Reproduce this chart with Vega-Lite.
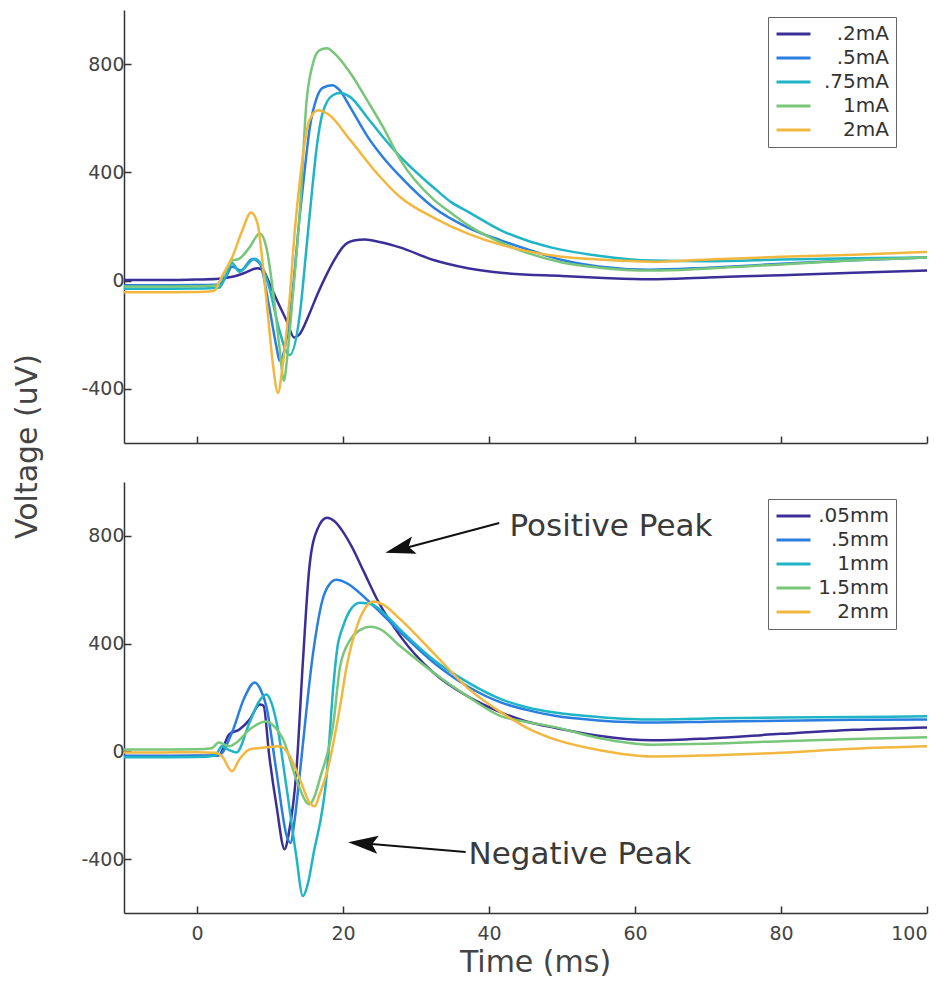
{
"$schema": "https://vega.github.io/schema/vega-lite/v6.json",
"padding": {"left": 12, "top": 10, "right": 10, "bottom": 2},
"background": "white",
"bounds": "flush",
"config": {
  "font": "DejaVu Sans",
  "view": {"stroke": null},
  "axis": {"grid": false, "domainColor": "#333", "domainWidth": 1.5, "tickColor": "#333", "tickWidth": 1.5, "tickSize": -7, "labelColor": "#444", "labelFont": "DejaVu Sans", "labelFontSize": 19, "labelPadding": 7, "titleColor": "#444", "titleFont": "DejaVu Sans", "titleFontWeight": "normal"},
  "legend": {"orient": "none", "title": null, "strokeColor": "#666", "fillColor": "white", "padding": 7, "symbolType": "M-1,0L3,0", "symbolSize": 289, "symbolStrokeWidth": 3, "labelFontSize": 20, "labelColor": "#333", "labelFont": "DejaVu Sans", "labelAlign": "right", "labelOffset": 94, "rowPadding": 4}
},
"datasets": {
"top": [
{"s":".2mA","t":-10,"v":2},{"s":".2mA","t":-5,"v":2},{"s":".2mA","t":0,"v":4},{"s":".2mA","t":3,"v":7},{"s":".2mA","t":5,"v":15},{"s":".2mA","t":6.5,"v":28},{"s":".2mA","t":8.3,"v":46},{"s":".2mA","t":9.2,"v":32},{"s":".2mA","t":10,"v":-15},{"s":".2mA","t":10.9,"v":-70},{"s":".2mA","t":12.3,"v":-150},{"s":".2mA","t":13.3,"v":-210},{"s":".2mA","t":14,"v":-200},{"s":".2mA","t":15.4,"v":-122},{"s":".2mA","t":16.5,"v":-50},{"s":".2mA","t":17.8,"v":25},{"s":".2mA","t":19,"v":85},{"s":".2mA","t":20,"v":125},{"s":".2mA","t":21.5,"v":148},{"s":".2mA","t":23,"v":152},{"s":".2mA","t":25,"v":143},{"s":".2mA","t":27.9,"v":122},{"s":".2mA","t":32.4,"v":76},{"s":".2mA","t":37.1,"v":46},{"s":".2mA","t":42,"v":28},{"s":".2mA","t":50,"v":17},{"s":".2mA","t":55,"v":11},{"s":".2mA","t":62,"v":5},{"s":".2mA","t":70,"v":12},{"s":".2mA","t":80,"v":20},{"s":".2mA","t":90,"v":29},{"s":".2mA","t":100,"v":37},
{"s":".5mA","t":-10,"v":-17},{"s":".5mA","t":-5,"v":-17},{"s":".5mA","t":0,"v":-16},{"s":".5mA","t":3,"v":-14},{"s":".5mA","t":4,"v":15},{"s":".5mA","t":4.8,"v":52},{"s":".5mA","t":6,"v":37},{"s":".5mA","t":7.6,"v":80},{"s":".5mA","t":8.6,"v":63},{"s":".5mA","t":9.9,"v":-99},{"s":".5mA","t":10.9,"v":-247},{"s":".5mA","t":11.3,"v":-296},{"s":".5mA","t":12.3,"v":-210},{"s":".5mA","t":13.1,"v":-40},{"s":".5mA","t":14.1,"v":248},{"s":".5mA","t":14.8,"v":420},{"s":".5mA","t":15.4,"v":556},{"s":".5mA","t":16.4,"v":675},{"s":".5mA","t":17.2,"v":712},{"s":".5mA","t":18.5,"v":722},{"s":".5mA","t":19.5,"v":705},{"s":".5mA","t":21,"v":640},{"s":".5mA","t":23.3,"v":535},{"s":".5mA","t":25.5,"v":455},{"s":".5mA","t":27.9,"v":383},{"s":".5mA","t":32.4,"v":270},{"s":".5mA","t":37.1,"v":196},{"s":".5mA","t":41.7,"v":148},{"s":".5mA","t":45,"v":118},{"s":".5mA","t":50,"v":76},{"s":".5mA","t":55,"v":52},{"s":".5mA","t":62,"v":40},{"s":".5mA","t":70,"v":48},{"s":".5mA","t":80,"v":62},{"s":".5mA","t":90,"v":75},{"s":".5mA","t":100,"v":85},
{"s":".75mA","t":-10,"v":-30},{"s":".75mA","t":-5,"v":-30},{"s":".75mA","t":0,"v":-29},{"s":".75mA","t":3,"v":-26},{"s":".75mA","t":4,"v":20},{"s":".75mA","t":4.8,"v":65},{"s":".75mA","t":5.8,"v":33},{"s":".75mA","t":7.9,"v":81},{"s":".75mA","t":9,"v":48},{"s":".75mA","t":9.9,"v":-26},{"s":".75mA","t":11.3,"v":-185},{"s":".75mA","t":12.3,"v":-266},{"s":".75mA","t":12.7,"v":-275},{"s":".75mA","t":14.1,"v":-122},{"s":".75mA","t":15,"v":122},{"s":".75mA","t":15.9,"v":370},{"s":".75mA","t":16.4,"v":493},{"s":".75mA","t":17.2,"v":619},{"s":".75mA","t":18.6,"v":685},{"s":".75mA","t":19.6,"v":693},{"s":".75mA","t":21,"v":678},{"s":".75mA","t":23.3,"v":604},{"s":".75mA","t":25.5,"v":530},{"s":".75mA","t":27.9,"v":456},{"s":".75mA","t":32.4,"v":344},{"s":".75mA","t":34.8,"v":290},{"s":".75mA","t":37.1,"v":255},{"s":".75mA","t":41.7,"v":185},{"s":".75mA","t":45,"v":150},{"s":".75mA","t":48.6,"v":122},{"s":".75mA","t":55,"v":92},{"s":".75mA","t":62.3,"v":74},{"s":".75mA","t":70,"v":72},{"s":".75mA","t":80,"v":78},{"s":".75mA","t":90,"v":83},{"s":".75mA","t":100,"v":85},
{"s":"1mA","t":-10,"v":-22},{"s":"1mA","t":-5,"v":-22},{"s":"1mA","t":0,"v":-21},{"s":"1mA","t":2.6,"v":-18},{"s":"1mA","t":4,"v":40},{"s":"1mA","t":4.8,"v":74},{"s":"1mA","t":5.8,"v":81},{"s":"1mA","t":7.2,"v":123},{"s":"1mA","t":8.6,"v":174},{"s":"1mA","t":9.5,"v":123},{"s":"1mA","t":10.4,"v":-37},{"s":"1mA","t":11.3,"v":-247},{"s":"1mA","t":11.9,"v":-370},{"s":"1mA","t":12.4,"v":-272},{"s":"1mA","t":13.1,"v":-63},{"s":"1mA","t":14.1,"v":260},{"s":"1mA","t":15,"v":660},{"s":"1mA","t":15.9,"v":804},{"s":"1mA","t":16.8,"v":852},{"s":"1mA","t":17.8,"v":859},{"s":"1mA","t":19,"v":835},{"s":"1mA","t":21,"v":767},{"s":"1mA","t":23.3,"v":667},{"s":"1mA","t":25.5,"v":567},{"s":"1mA","t":27.9,"v":444},{"s":"1mA","t":32.4,"v":300},{"s":"1mA","t":34.8,"v":250},{"s":"1mA","t":37.1,"v":205},{"s":"1mA","t":41.7,"v":140},{"s":"1mA","t":45,"v":105},{"s":"1mA","t":50,"v":67},{"s":"1mA","t":55,"v":48},{"s":"1mA","t":62.3,"v":37},{"s":"1mA","t":70,"v":45},{"s":"1mA","t":80,"v":60},{"s":"1mA","t":90,"v":75},{"s":"1mA","t":100,"v":85},
{"s":"2mA","t":-10,"v":-43},{"s":"2mA","t":-5,"v":-43},{"s":"2mA","t":0,"v":-42},{"s":"2mA","t":2.3,"v":-38},{"s":"2mA","t":3.5,"v":20},{"s":"2mA","t":4.8,"v":85},{"s":"2mA","t":6.2,"v":185},{"s":"2mA","t":7.4,"v":252},{"s":"2mA","t":8.3,"v":210},{"s":"2mA","t":9,"v":63},{"s":"2mA","t":9.7,"v":-122},{"s":"2mA","t":10.4,"v":-309},{"s":"2mA","t":11.1,"v":-415},{"s":"2mA","t":11.7,"v":-322},{"s":"2mA","t":12.7,"v":-63},{"s":"2mA","t":13.4,"v":185},{"s":"2mA","t":14.1,"v":370},{"s":"2mA","t":14.7,"v":500},{"s":"2mA","t":15.4,"v":593},{"s":"2mA","t":16.6,"v":630},{"s":"2mA","t":18,"v":615},{"s":"2mA","t":21,"v":519},{"s":"2mA","t":25.1,"v":383},{"s":"2mA","t":27.9,"v":307},{"s":"2mA","t":32.4,"v":233},{"s":"2mA","t":37.1,"v":174},{"s":"2mA","t":41.7,"v":132},{"s":"2mA","t":45,"v":110},{"s":"2mA","t":50,"v":88},{"s":"2mA","t":55,"v":78},{"s":"2mA","t":62.3,"v":70},{"s":"2mA","t":70,"v":78},{"s":"2mA","t":80,"v":88},{"s":"2mA","t":90,"v":96},{"s":"2mA","t":100,"v":106}
],
"bottom": [
{"s":".05mm","t":-10,"v":-17},{"s":".05mm","t":-5,"v":-17},{"s":".05mm","t":0,"v":-16},{"s":".05mm","t":3,"v":-14},{"s":".05mm","t":4.4,"v":63},{"s":".05mm","t":5.8,"v":81},{"s":".05mm","t":7.2,"v":118},{"s":".05mm","t":8.6,"v":174},{"s":".05mm","t":9.1,"v":170},{"s":".05mm","t":9.9,"v":-17},{"s":".05mm","t":10.9,"v":-204},{"s":".05mm","t":12,"v":-363},{"s":".05mm","t":12.6,"v":-300},{"s":".05mm","t":13.6,"v":-78},{"s":".05mm","t":14.5,"v":330},{"s":".05mm","t":15.4,"v":685},{"s":".05mm","t":16.5,"v":825},{"s":".05mm","t":17.8,"v":867},{"s":".05mm","t":18.8,"v":855},{"s":".05mm","t":20,"v":815},{"s":".05mm","t":21.2,"v":760},{"s":".05mm","t":22.8,"v":670},{"s":".05mm","t":24.7,"v":563},{"s":".05mm","t":27.9,"v":426},{"s":".05mm","t":32.4,"v":292},{"s":".05mm","t":37.1,"v":204},{"s":".05mm","t":41.7,"v":144},{"s":".05mm","t":45,"v":112},{"s":".05mm","t":49,"v":88},{"s":".05mm","t":55,"v":58},{"s":".05mm","t":62.3,"v":41},{"s":".05mm","t":70,"v":48},{"s":".05mm","t":80,"v":65},{"s":".05mm","t":90,"v":80},{"s":".05mm","t":100,"v":89},
{"s":".5mm","t":-10,"v":-17},{"s":".5mm","t":-5,"v":-17},{"s":".5mm","t":0,"v":-16},{"s":".5mm","t":3,"v":-14},{"s":".5mm","t":4.8,"v":70},{"s":".5mm","t":6.5,"v":200},{"s":".5mm","t":7.9,"v":256},{"s":".5mm","t":8.7,"v":230},{"s":".5mm","t":9.5,"v":167},{"s":".5mm","t":10.9,"v":-78},{"s":".5mm","t":12.3,"v":-315},{"s":".5mm","t":12.8,"v":-340},{"s":".5mm","t":13.4,"v":-250},{"s":".5mm","t":14.1,"v":-78},{"s":".5mm","t":15.9,"v":365},{"s":".5mm","t":17.2,"v":563},{"s":".5mm","t":18,"v":615},{"s":".5mm","t":19.1,"v":637},{"s":".5mm","t":20.5,"v":625},{"s":".5mm","t":23.3,"v":563},{"s":".5mm","t":27.9,"v":441},{"s":".5mm","t":32.4,"v":330},{"s":".5mm","t":37.1,"v":241},{"s":".5mm","t":41.7,"v":181},{"s":".5mm","t":45,"v":155},{"s":".5mm","t":49,"v":132},{"s":".5mm","t":55,"v":115},{"s":".5mm","t":62.3,"v":107},{"s":".5mm","t":70,"v":110},{"s":".5mm","t":80,"v":114},{"s":".5mm","t":90,"v":117},{"s":".5mm","t":100,"v":118},
{"s":"1mm","t":-10,"v":-22},{"s":"1mm","t":-5,"v":-22},{"s":"1mm","t":0,"v":-21},{"s":"1mm","t":2.5,"v":-15},{"s":"1mm","t":3.4,"v":19},{"s":"1mm","t":4.4,"v":5},{"s":"1mm","t":5.4,"v":-4},{"s":"1mm","t":7.2,"v":107},{"s":"1mm","t":8.5,"v":185},{"s":"1mm","t":9.5,"v":211},{"s":"1mm","t":10.2,"v":180},{"s":"1mm","t":10.9,"v":107},{"s":"1mm","t":12.3,"v":-141},{"s":"1mm","t":13.6,"v":-389},{"s":"1mm","t":14.5,"v":-537},{"s":"1mm","t":15.2,"v":-490},{"s":"1mm","t":15.9,"v":-389},{"s":"1mm","t":17.8,"v":-78},{"s":"1mm","t":18.7,"v":250},{"s":"1mm","t":19.2,"v":380},{"s":"1mm","t":20,"v":463},{"s":"1mm","t":21,"v":525},{"s":"1mm","t":22.3,"v":552},{"s":"1mm","t":24,"v":545},{"s":"1mm","t":25.5,"v":515},{"s":"1mm","t":27.9,"v":450},{"s":"1mm","t":32.4,"v":340},{"s":"1mm","t":37.1,"v":256},{"s":"1mm","t":41.7,"v":193},{"s":"1mm","t":45,"v":165},{"s":"1mm","t":49,"v":144},{"s":"1mm","t":55,"v":128},{"s":"1mm","t":62.3,"v":118},{"s":"1mm","t":70,"v":122},{"s":"1mm","t":80,"v":126},{"s":"1mm","t":90,"v":128},{"s":"1mm","t":100,"v":130},
{"s":"1.5mm","t":-10,"v":7},{"s":"1.5mm","t":-5,"v":7},{"s":"1.5mm","t":0,"v":8},{"s":"1.5mm","t":2,"v":12},{"s":"1.5mm","t":3,"v":33},{"s":"1.5mm","t":4.4,"v":19},{"s":"1.5mm","t":5.5,"v":35},{"s":"1.5mm","t":7.2,"v":81},{"s":"1.5mm","t":9.5,"v":111},{"s":"1.5mm","t":10.5,"v":95},{"s":"1.5mm","t":11.8,"v":44},{"s":"1.5mm","t":13.6,"v":-104},{"s":"1.5mm","t":15,"v":-189},{"s":"1.5mm","t":15.4,"v":-196},{"s":"1.5mm","t":16.2,"v":-160},{"s":"1.5mm","t":16.8,"v":-104},{"s":"1.5mm","t":18.7,"v":107},{"s":"1.5mm","t":19.6,"v":315},{"s":"1.5mm","t":21,"v":415},{"s":"1.5mm","t":22.3,"v":450},{"s":"1.5mm","t":23.7,"v":463},{"s":"1.5mm","t":25,"v":455},{"s":"1.5mm","t":27.9,"v":389},{"s":"1.5mm","t":32.4,"v":292},{"s":"1.5mm","t":37.1,"v":204},{"s":"1.5mm","t":41.7,"v":130},{"s":"1.5mm","t":45,"v":110},{"s":"1.5mm","t":49,"v":90},{"s":"1.5mm","t":55,"v":50},{"s":"1.5mm","t":62.3,"v":25},{"s":"1.5mm","t":70,"v":28},{"s":"1.5mm","t":80,"v":38},{"s":"1.5mm","t":90,"v":46},{"s":"1.5mm","t":100,"v":52},
{"s":"2mm","t":-10,"v":-4},{"s":"2mm","t":-5,"v":-4},{"s":"2mm","t":0,"v":-3},{"s":"2mm","t":2.5,"v":-5},{"s":"2mm","t":3.4,"v":-17},{"s":"2mm","t":4.8,"v":-74},{"s":"2mm","t":5.8,"v":-30},{"s":"2mm","t":7.2,"v":7},{"s":"2mm","t":9.5,"v":15},{"s":"2mm","t":11.3,"v":19},{"s":"2mm","t":12.7,"v":-17},{"s":"2mm","t":14.1,"v":-104},{"s":"2mm","t":15.4,"v":-189},{"s":"2mm","t":16.1,"v":-204},{"s":"2mm","t":16.8,"v":-160},{"s":"2mm","t":17.8,"v":-78},{"s":"2mm","t":19.6,"v":167},{"s":"2mm","t":20.5,"v":315},{"s":"2mm","t":21.9,"v":463},{"s":"2mm","t":23,"v":530},{"s":"2mm","t":24.1,"v":556},{"s":"2mm","t":25.5,"v":545},{"s":"2mm","t":27.9,"v":489},{"s":"2mm","t":32.4,"v":365},{"s":"2mm","t":37.1,"v":235},{"s":"2mm","t":41.7,"v":144},{"s":"2mm","t":45,"v":90},{"s":"2mm","t":48.6,"v":48},{"s":"2mm","t":55,"v":5},{"s":"2mm","t":62.3,"v":-19},{"s":"2mm","t":70,"v":-15},{"s":"2mm","t":80,"v":-5},{"s":"2mm","t":90,"v":10},{"s":"2mm","t":100,"v":19}
]
},
"vconcat": [
{
 "width": 803, "height": 433,
 "data": {"name": "top"},
 "mark": {"type": "line", "strokeWidth": 2.5, "interpolate": "monotone"},
 "encoding": {
  "x": {"field": "t", "type": "quantitative", "scale": {"domain": [-10, 100], "nice": false}, "axis": {"values": [0, 20, 40, 60, 80, 100], "labels": false, "title": null}},
  "y": {"field": "v", "type": "quantitative", "scale": {"domain": [-600, 1000], "nice": false}, "axis": {"values": [-400, 0, 400, 800], "labelExpr": "'' + datum.value", "title": "Voltage (uV)", "titleFontSize": 30, "titleX": -88, "titleY": 436, "titleAngle": -90, "titleAlign": "center", "titleBaseline": "alphabetic"}},
  "color": {"field": "s", "type": "nominal", "scale": {"domain": [".2mA", ".5mA", ".75mA", "1mA", "2mA"], "range": ["#3b2f97", "#2a7ee0", "#1fb4c6", "#78c679", "#f2b73f"]}, "legend": {"legendX": 644, "legendY": 7}}
 }
},
{
 "width": 803, "height": 431,
 "layer": [
  {
   "data": {"name": "bottom"},
   "mark": {"type": "line", "strokeWidth": 2.5, "interpolate": "monotone"},
   "encoding": {
    "x": {"field": "t", "type": "quantitative", "scale": {"domain": [-10, 100], "nice": false}, "axis": {"values": [0, 20, 40, 60, 80, 100], "title": "Time (ms)", "titleFontSize": 30, "titleX": 411, "titleY": 58, "titleBaseline": "alphabetic", "titleAlign": "center", "labelPadding": 18}},
    "y": {"field": "v", "type": "quantitative", "scale": {"domain": [-600, 1000], "nice": false}, "axis": {"values": [-400, 0, 400, 800], "labelExpr": "'' + datum.value", "title": null}},
    "color": {"field": "s", "type": "nominal", "scale": {"domain": [".05mm", ".5mm", "1mm", "1.5mm", "2mm"], "range": ["#3b2f97", "#2a7ee0", "#1fb4c6", "#78c679", "#f2b73f"]}, "legend": {"legendX": 644, "legendY": 17}}
   }
  },
  {
   "data": {"values": [{"t": 41.4, "v": 848, "t2": 26.5, "v2": 740}, {"t": 36.8, "v": -374, "t2": 21.5, "v2": -338}]},
   "mark": {"type": "rule", "color": "#111", "strokeWidth": 2},
   "encoding": {"x": {"field": "t", "type": "quantitative"}, "y": {"field": "v", "type": "quantitative"}, "x2": {"field": "t2"}, "y2": {"field": "v2"}}
  },
  {
   "data": {"values": [{"t": 25.8, "v": 737}]},
   "mark": {"type": "point", "shape": "M0,0 L1,-0.3 L0.8,0 L1,0.3 Z", "filled": true, "color": "#111", "opacity": 1, "size": 3600, "angle": 345},
   "encoding": {"x": {"field": "t", "type": "quantitative"}, "y": {"field": "v", "type": "quantitative"}}
  },
  {
   "data": {"values": [{"t": 20.7, "v": -337}]},
   "mark": {"type": "point", "shape": "M0,0 L1,-0.3 L0.8,0 L1,0.3 Z", "filled": true, "color": "#111", "opacity": 1, "size": 3600, "angle": 5},
   "encoding": {"x": {"field": "t", "type": "quantitative"}, "y": {"field": "v", "type": "quantitative"}}
  },
  {
   "data": {"values": [{"t": 42.8, "v": 800, "label": "Positive Peak"}, {"t": 37.2, "v": -419, "label": "Negative Peak"}]},
   "mark": {"type": "text", "align": "left", "baseline": "alphabetic", "fontSize": 31, "color": "#3a3a3a", "font": "DejaVu Sans"},
   "encoding": {"x": {"field": "t", "type": "quantitative"}, "y": {"field": "v", "type": "quantitative"}, "text": {"field": "label"}}
  }
 ]
}
],
"spacing": 39,
"resolve": {"scale": {"color": "independent"}, "legend": {"color": "independent"}}
}
